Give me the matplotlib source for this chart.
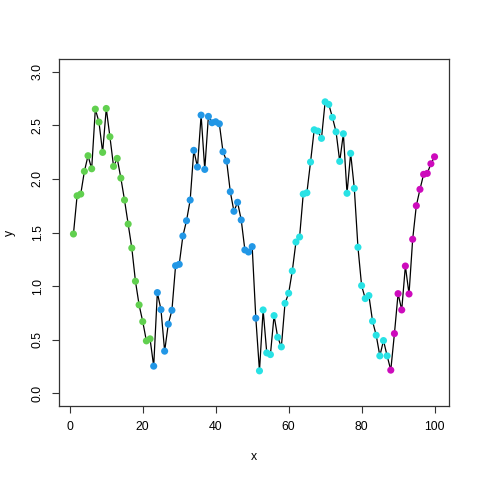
import numpy as np
import matplotlib
matplotlib.use('Agg')
import matplotlib.pyplot as plt

# values
y = [1.486, 1.843, 1.859, 2.071, 2.217, 2.095, 2.652, 2.531, 2.248, 2.658,
     2.394, 2.117, 2.192, 2.008, 1.803, 1.579, 1.355, 1.045, 0.824, 0.668,
     0.488, 0.507, 0.252, 0.939, 0.780, 0.392, 0.644, 0.774, 1.190, 1.203,
     1.467, 1.610, 1.803, 2.267, 2.111, 2.596, 2.089, 2.584, 2.525, 2.534,
     2.515, 2.254, 2.167, 1.881, 1.698, 1.782, 1.617, 1.337, 1.318, 1.368,
     0.700, 0.208, 0.777, 0.376, 0.360, 0.724, 0.522, 0.432, 0.839, 0.933,
     1.141, 1.411, 1.458, 1.859, 1.871, 2.158, 2.459, 2.447, 2.379, 2.720,
     2.696, 2.575, 2.440, 2.164, 2.422, 1.866, 2.239, 1.912, 1.362, 1.004,
     0.883, 0.911, 0.672, 0.541, 0.348, 0.491, 0.348, 0.215, 0.556, 0.929,
     0.777, 1.187, 0.926, 1.437, 1.750, 1.903, 2.043, 2.052, 2.142, 2.207]
x = np.arange(1, len(y) + 1)

# group of each point (R palette index)
group = [3] * 22 + [4] * 29 + [5] * 36 + [6] * 13
palette = {3: '#61D04F', 4: '#2297E6', 5: '#28E2E5', 6: '#CD0BBC'}

plt.rcParams['font.family'] = ['Liberation Sans', 'DejaVu Sans']

fig = plt.figure(figsize=(4.8, 4.8), dpi=100)
ax = fig.add_axes([59 / 480, 74 / 480, 390 / 480, 347 / 480])

ax.plot(x, y, color='black', lw=0.9, zorder=1)
cols = [palette[g] for g in group]
ax.scatter(x, y, c=cols, s=26, linewidths=0, zorder=2)

ax.set_xlim(-2.96, 103.96)
ax.set_ylim(-0.12, 3.12)
ax.set_xticks([0, 20, 40, 60, 80, 100])
ax.set_yticks([0.0, 0.5, 1.0, 1.5, 2.0, 2.5, 3.0])
ax.set_yticklabels(['0.0', '0.5', '1.0', '1.5', '2.0', '2.5', '3.0'],
                   rotation=90, va='center')
ax.tick_params(direction='out', length=5, width=0.8, labelsize=8.8,
               color='#333333', pad=6)
for s in ax.spines.values():
    s.set_linewidth(0.9)
    s.set_color('#333333')

ax.set_xlabel('x', fontsize=8.8, labelpad=13)
ax.set_ylabel('y', fontsize=8.8, labelpad=11)

fig.savefig('out.png', dpi=100)
